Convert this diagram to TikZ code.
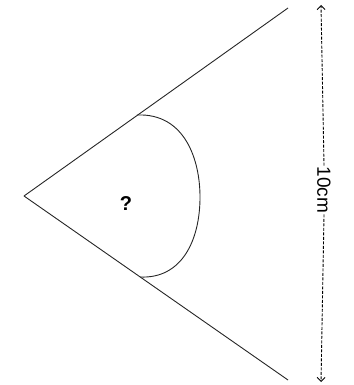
\documentclass[tikz,border=0pt]{standalone}
\usepackage{fontspec}
\setmainfont{Liberation Sans}
\usetikzlibrary{arrows.meta}
\begin{document}
\begin{tikzpicture}[x=1pt,y=-1pt,
  edge/.style={draw=black!85,line width=0.9pt},
  dimline/.style={draw=black,line width=0.9pt,dash pattern=on 3pt off 1.5pt},
  tip/.style={-{Straight Barb[length=4pt,width=8pt]}}]
\useasboundingbox (0,0) rectangle (353,385);
\coordinate (apex) at (24,196);
\coordinate (ua) at (288,8);
\coordinate (la) at (288,380);
\coordinate (p) at (137,115);
\coordinate (q) at (140,277);
\draw[edge] (apex) -- (ua);
\draw[edge] (apex) -- (la);
\draw[edge] (p) .. controls (185,113) and (200,160) .. (200,197)
  .. controls (200,240) and (182,279) .. (q);
\node[font=\fontsize{20}{22}\selectfont\bfseries] (qm) at (126,204) {?};
\node[rotate=-90,font=\fontsize{19}{21}\selectfont,inner sep=1pt] (dim) at (324,190) {10cm};
\coordinate (dt) at (321,5);
\coordinate (db) at (321,382);
\draw[dimline,tip] (dim.west) -- (dt);
\draw[dimline,tip] (dim.east) -- (db);
\end{tikzpicture}
\end{document}
